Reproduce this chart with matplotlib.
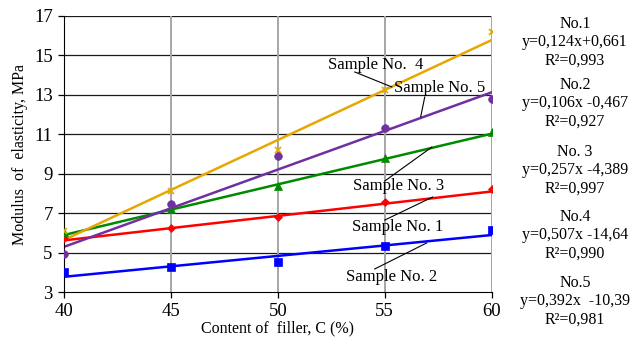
import numpy as np
import matplotlib
matplotlib.use('Agg')
import matplotlib.pyplot as plt

plt.rcParams['font.family'] = ['Liberation Serif', 'DejaVu Serif']

# --- dados ---
filler = [40, 45, 50, 55, 60]

sample1 = [5.75, 6.26, 6.82, 7.55, 8.22]
sample2 = [4.03, 4.28, 4.54, 5.35, 6.14]
sample3 = [6.04, 7.19, 8.39, 9.78, 11.13]
sample4 = [6.09, 8.12, 10.2, 13.25, 16.17]
sample5 = [4.93, 7.45, 9.9, 11.33, 12.77]

# coeficientes das linhas de tendência (do texto à direita)
slopes = [0.124, 0.106, 0.257, 0.507, 0.392]
intercepts = [0.661, -0.467, -4.389, -14.64, -10.39]

eq_titles = ["No.1", "No.2", "No. 3", "No.4", "No.5"]
eq_texts = ["y=0,124x+0,661", "y=0,106x -0,467", "y=0,257x -4,389",
            "y=0,507x -14,64", "y=0,392x  -10,39"]
r2_texts = ["R²=0,993", "R²=0,927", "R²=0,997", "R²=0,990", "R²=0,981"]

series = [sample1, sample2, sample3, sample4, sample5]
colors = ['#FF0000', '#0000FF', '#008A00', '#E6A800', '#7030A0']
markers = ['D', 's', '^', 'x', 'o']
msizes = [4, 5.5, 5.5, 5, 5.5]

fig = plt.figure(figsize=(6.32, 3.40), dpi=100)
ax = fig.add_axes([0.101, 0.141, 0.677, 0.812])

for ys, c, m, ms, k, b in zip(series, colors, markers, msizes, slopes, intercepts):
    ax.plot(filler, ys, linestyle='none', marker=m, color=c, markersize=ms,
            markeredgewidth=1.2 if m == 'x' else 0.5, zorder=3)
    xs = np.array([filler[0], filler[-1]])
    ax.plot(xs, k * xs + b, color=c, linewidth=1.8, zorder=2)

ax.set_xlim(40, 60)
ax.set_ylim(3, 17)
ax.set_xticks(filler)
ax.set_yticks(range(3, 18, 2))

# grade: horizontais pretas, verticais cinzas
for yv in range(5, 18, 2):
    ax.axhline(yv, color='#1a1a1a', linewidth=0.9, zorder=1)
for xv in filler[1:]:
    ax.axvline(xv, color='#A6A6A6', linewidth=1.4, zorder=1)

for s in ['top', 'right']:
    ax.spines[s].set_visible(False)
ax.spines['left'].set_color('black')
ax.spines['bottom'].set_color('black')
ax.tick_params(direction='out', length=4, width=0.9, labelsize=13.5, pad=4)

ax.set_xlabel("Content of  filler, C (%)", fontsize=11.5, labelpad=0)
ax.set_ylabel("Modulus  of  elasticity, MPa", fontsize=11.5, labelpad=4)

# rótulos com linhas de chamada (coordenadas de dados)
labels = [
    ("Sample No.  4", (54.58, 14.51), (55.33, 13.40), (53.6, 14.16)),
    ("Sample No. 5", (57.57, 13.35), (56.68, 11.88), (56.87, 12.89)),
    ("Sample No. 3", (55.65, 8.38), (57.2, 10.35), (55.0, 8.63)),
    ("Sample No. 1", (55.6, 6.30), (57.24, 7.82), (55.0, 6.65)),
    ("Sample No. 2", (55.33, 3.76), (56.96, 5.49), (54.53, 4.17)),
]
for txt, pos, tip, start in labels:
    ax.text(pos[0], pos[1], txt, fontsize=12, ha='center', va='center', zorder=5)
    ax.plot([start[0], tip[0]], [start[1], tip[1]], color='black', linewidth=0.8, zorder=4)

# equações à direita
tops = [24, 85, 152, 217, 283]
for t, title, eq, r2 in zip(tops, eq_titles, eq_texts, r2_texts):
    fig.text(575 / 632, 1 - t / 340, title, fontsize=11.5, ha='center', va='center')
    fig.text(575 / 632, 1 - (t + 18) / 340, eq, fontsize=11.5, ha='center', va='center')
    fig.text(575 / 632, 1 - (t + 37) / 340, r2, fontsize=11.5, ha='center', va='center')

fig.savefig('out.png', dpi=100)
